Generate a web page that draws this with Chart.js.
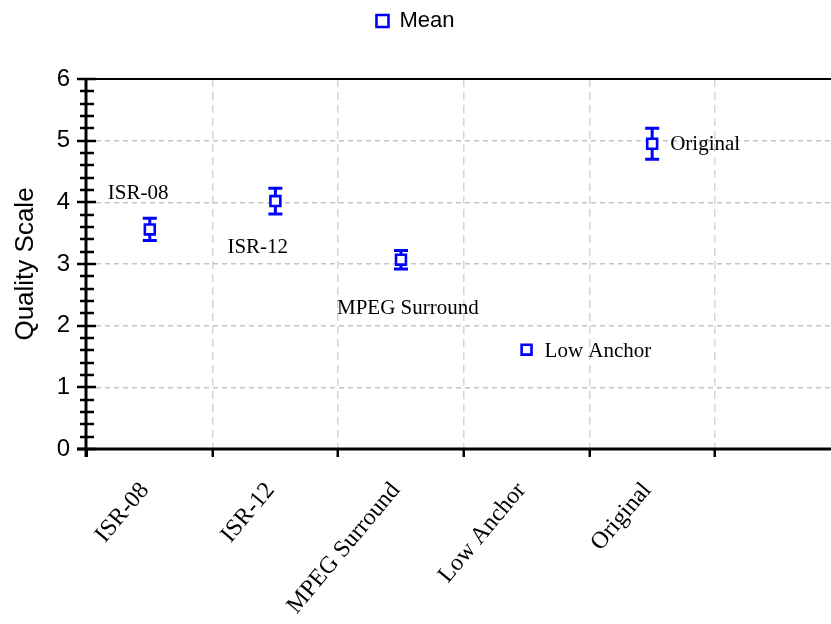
<!DOCTYPE html>
<html>
<head>
<meta charset="utf-8">
<script src="https://cdn.jsdelivr.net/npm/chart.js@4.4.0/dist/chart.umd.min.js"></script>
<style>
  html, body { margin: 0; padding: 0; background: #ffffff; overflow: hidden; }
  #wrap { width: 831px; height: 624px; }
</style>
</head>
<body>
<div id="wrap"><canvas id="chart" width="831" height="624"></canvas></div>
<script>
// Listening-test results: mean score per condition with confidence half-widths
const categories = ['ISR-08', 'ISR-12', 'MPEG Surround', 'Low Anchor', 'Original'];
const meanValues = [3.56, 4.02, 3.07, 1.61, 4.95];
const errorValues = [0.18, 0.21, 0.15, 0, 0.25];
const yTickLabels = ['0', '1', '2', '3', '4', '5', '6'];

// Where each condition's name sits relative to its marker (px: left edge, baseline)
const labelPlacement = [[-42, -30], [-48, 52], [-64, 54], [18, 7], [18, 6]];

const BLUE = '#0000ff';
const SANS = 'Liberation Sans, Arial, sans-serif';
const SERIF = 'Liberation Serif, Times New Roman, serif';
const LEGEND_BAND = 79;   // height reserved above the plot for the legend row

const points = categories.map((c, i) => ({ x: i + 0.5, y: meanValues[i] }));
const isInt = v => Math.abs(v - Math.round(v)) < 1e-6;

// Give the legend a fixed band so the plot starts at the same height every time
const legendBandPlugin = {
  id: 'legendBand',
  afterInit(chart) {
    const lg = chart.legend;
    if (!lg) return;
    const fit = lg.fit.bind(lg);
    lg.fit = function () { fit(); this.height = LEGEND_BAND; };
  }
};

// Axis lines, top frame line and the major/minor ticks that cross the value axis
const axisPlugin = {
  id: 'axisLines',
  beforeDatasetsDraw(chart) {
    const { ctx, chartArea: a, scales: { y } } = chart;
    ctx.save();
    ctx.strokeStyle = '#000';
    ctx.lineCap = 'butt';
    ctx.lineWidth = 2;
    ctx.beginPath();
    ctx.moveTo(a.left, a.top); ctx.lineTo(a.right, a.top);
    ctx.stroke();
    ctx.lineWidth = 3;
    ctx.beginPath();
    ctx.moveTo(a.left - 10, a.bottom); ctx.lineTo(a.right, a.bottom);
    ctx.moveTo(a.left - 1, a.top - 1); ctx.lineTo(a.left - 1, a.bottom + 8);
    ctx.stroke();
    ctx.lineWidth = 2.5;
    ctx.beginPath();
    y.ticks.forEach(t => {
      const py = Math.round(y.getPixelForValue(t.value));
      if (isInt(t.value)) { ctx.moveTo(a.left - 10, py); ctx.lineTo(a.left + 9, py); }
      else { ctx.moveTo(a.left - 7, py); ctx.lineTo(a.left + 7, py); }
    });
    ctx.stroke();
    ctx.restore();
  }
};

// Vertical error bars with caps, drawn under the hollow markers
const errorBarPlugin = {
  id: 'errorBars',
  beforeDatasetsDraw(chart) {
    const { ctx, scales: { x, y } } = chart;
    ctx.save();
    ctx.strokeStyle = BLUE;
    ctx.lineWidth = 3;
    ctx.beginPath();
    meanValues.forEach((m, i) => {
      if (!errorValues[i]) return;
      const px = x.getPixelForValue(i + 0.5);
      const top = y.getPixelForValue(m + errorValues[i]);
      const bot = y.getPixelForValue(m - errorValues[i]);
      ctx.moveTo(px, top); ctx.lineTo(px, bot);
      ctx.moveTo(px - 7, top); ctx.lineTo(px + 7, top);
      ctx.moveTo(px - 7, bot); ctx.lineTo(px + 7, bot);
    });
    ctx.stroke();
    ctx.restore();
  }
};

// Condition names written next to their markers
const pointLabelPlugin = {
  id: 'pointLabels',
  afterDatasetsDraw(chart) {
    const { ctx, scales: { x, y } } = chart;
    ctx.save();
    ctx.fillStyle = '#000';
    ctx.font = '21px ' + SERIF;
    ctx.textAlign = 'left';
    ctx.textBaseline = 'alphabetic';
    categories.forEach((c, i) => {
      const px = x.getPixelForValue(i + 0.5);
      const py = y.getPixelForValue(meanValues[i]);
      ctx.fillText(c, px + labelPlacement[i][0], py + labelPlacement[i][1]);
    });
    ctx.restore();
  }
};

new Chart(document.getElementById('chart'), {
  type: 'scatter',
  data: {
    datasets: [{
      label: 'Mean',
      data: points,
      pointStyle: 'rect',
      pointRadius: 7,
      pointHoverRadius: 7,
      borderColor: BLUE,
      backgroundColor: '#ffffff',
      borderWidth: 3,
      pointBorderWidth: 2.6
    }]
  },
  options: {
    responsive: false,
    animation: false,
    events: [],
    layout: { autoPadding: false, padding: { top: 0, right: 0, bottom: 0, left: 0 } },
    plugins: {
      legend: {
        display: true,
        position: 'top',
        labels: {
          color: '#000',
          font: { family: SANS, size: 22 },
          boxWidth: 12,
          boxHeight: 12,
          padding: 10
        }
      },
      tooltip: { enabled: false }
    },
    scales: {
      x: {
        type: 'linear',
        min: 0,
        max: 5.924,
        afterBuildTicks: s => {
          const vals = [];
          for (let v = 0; v <= 5.5; v += 0.5) vals.push({ value: v });
          s.ticks = vals;
        },
        afterFit: s => { s.height = 175; s.paddingLeft = 0; s.paddingRight = 0; },
        ticks: {
          autoSkip: false,
          minRotation: 50,
          maxRotation: 50,
          padding: 20,
          labelOffset: -5,
          color: '#000',
          font: { family: SERIF, size: 24 },
          callback: v => {
            const i = Math.floor(v);
            return (!isInt(v) && categories[i]) ? categories[i] : '';
          }
        },
        grid: {
          color: c => (isInt(c.tick.value) && c.tick.value > 0) ? '#d6d6d6' : 'rgba(0,0,0,0)',
          lineWidth: 1.5,
          drawTicks: true,
          tickLength: 8,
          tickWidth: 2.5,
          tickBorderDash: [],
          tickColor: c => isInt(c.tick.value) ? '#000' : 'rgba(0,0,0,0)'
        },
        border: { display: false, dash: [8, 5] }
      },
      y: {
        min: 0,
        max: 6,
        afterFit: s => { s.width = 87; },
        ticks: {
          stepSize: 0.2,
          autoSkip: false,
          padding: 17,
          color: '#000',
          font: { family: SANS, size: 24 },
          callback: v => isInt(v) ? yTickLabels[Math.round(v)] : ''
        },
        grid: {
          color: c => (isInt(c.tick.value) && c.tick.value > 0.5 && c.tick.value < 5.5) ? '#c4c4c4' : 'rgba(0,0,0,0)',
          lineWidth: 1.5,
          drawTicks: false
        },
        border: { display: false, dash: [5, 4] },
        title: {
          display: true,
          text: 'Quality Scale',
          color: '#000',
          font: { family: SANS, size: 26 },
          padding: { top: 10, bottom: 0 }
        }
      }
    }
  },
  plugins: [legendBandPlugin, axisPlugin, errorBarPlugin, pointLabelPlugin]
});
</script>
</body>
</html>
